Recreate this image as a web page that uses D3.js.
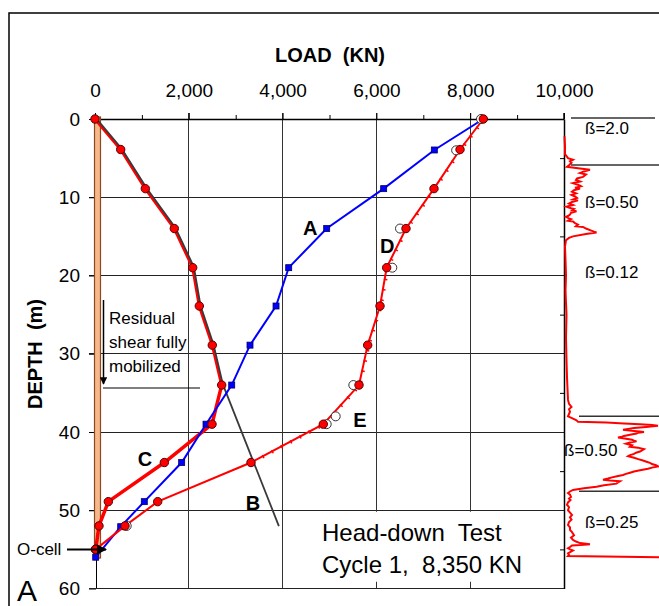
<!DOCTYPE html>
<html>
<head>
<meta charset="utf-8">
<script src="https://cdn.jsdelivr.net/npm/d3@7"></script>
<style>
  body { margin: 0; background: #fff; }
  svg { display: block; font-family: "Liberation Sans", Arial, sans-serif; }
  svg text { white-space: pre; }
</style>
</head>
<body>
<svg width="659" height="606"></svg>
<script>
var width = 659;
var height = 606;

// gauge depths (m) and loads (KN)
var gaugeDepth = [0, 3.9, 8.9, 14, 19, 23.9, 28.9, 34, 39, 43.9, 48.9, 52, 55];
var loadC = [0, 548, 1073, 1691, 2083, 2224, 2501, 2701, 2495, 1478, 284, 85, 15];
var loadD = [8280, 7783, 7228, 6631, 6219, 6077, 5814, 5629, 4868, 3326, 1337, 640, 15];

var blueDepth = [0, 3.96, 8.9, 14, 19, 23.9, 28.9, 34, 39, 43.9, 48.9, 52.1, 56];
var loadA = [8280, 7235, 6155, 4940, 4130, 3860, 3305, 2915, 2367, 1848, 1051, 548, 15];

// open circles (second reading)
var openDepth = [0, 4, 14, 19, 34, 38, 39, 52, 55];
var openLoad = [8230, 7700, 6503, 6339, 5508, 5132, 4940, 676, 15];

// line B : continuation of upper curve
var lineBDepth = [34, 52.1];
var lineBLoad = [2701, 3895];

var loadTicks = [0, 2000, 4000, 6000, 8000, 10000];
var loadMinor = [1000, 3000, 5000, 7000, 9000];
var depthTicks = [0, 10, 20, 30, 40, 50, 60];
var depthMinor = [5, 15, 25, 35, 45, 55];

// side profile trace (depth m, relative value)
var profDepth = [2.2, 3.5, 4.5, 5.0, 5.2, 5.4, 5.6, 5.9, 6.1, 6.3, 6.5, 6.7, 6.9, 7.1, 7.4, 7.6, 7.8, 8.0, 8.2, 8.4, 8.6, 8.8, 8.9, 9.1, 9.3, 9.5, 9.7, 9.9, 10.1, 10.3, 10.4, 10.6, 10.8, 11.0, 11.2, 11.4, 11.5, 11.7, 11.8, 12.0, 12.2, 12.4, 12.5, 12.7, 12.8, 13.0, 13.1, 13.3, 13.5, 13.7, 13.8, 14.0, 14.2, 14.4, 14.5, 14.7, 15.0, 15.2, 15.5, 15.9, 16.3, 18, 20, 22, 25, 28, 30.8, 33, 35.9, 36.4, 36.8, 37.1, 37.4, 37.7, 38.0, 38.3, 38.5, 38.7, 38.8, 38.9, 39.0, 39.1, 39.2, 39.35, 39.5, 39.6, 39.7, 39.85, 40.0, 40.1, 40.2, 40.35, 40.5, 40.6, 40.7, 40.85, 41.0, 41.1, 41.2, 41.35, 41.5, 41.7, 41.9, 42.0, 42.2, 42.35, 42.5, 42.65, 42.8, 42.95, 43.1, 43.3, 43.5, 43.65, 43.8, 43.95, 44.1, 44.25, 44.4, 44.55, 44.7, 44.8, 44.9, 45.05, 45.2, 45.35, 45.5, 45.65, 45.8, 45.95, 46.1, 46.2, 46.3, 46.45, 46.6, 46.8, 47.0, 47.2, 47.4, 47.6, 47.8, 48.0, 48.3, 48.5, 48.7, 49.0, 49.3, 49.6, 50.0, 50.3, 50.6, 50.9, 51.2, 51.5, 51.9, 52.2, 52.5, 52.8, 53.2, 53.5, 53.8, 54.0, 54.2, 54.35, 54.4, 54.5, 54.7, 54.85, 55.0, 55.15, 55.3, 55.5, 55.7, 55.85, 56.0, 56.05];
var profVal = [0.5, 1, 1, 4, 9, 6, 7.5, 5, 3, 14, 26, 20, 16, 22, 19, 13, 12, 16, 9, 14, 17, 11, 16, 10, 8, 12, 7.5, 11, 13, 9, 14, 8, 5, 9, 2.5, 7, 10, 8, 12.5, 7, 6, 4, 2, 5, 7, 4, 9, 11, 14, 12, 19, 22, 26, 30, 32.5, 22, 9, 5, 2, 1.5, 1, 1.5, 2, 1.5, 2.5, 2, 2.5, 3, 4, 5, 7.5, 5, 6, 5, 4, 9, 12.5, 14, 42.5, 60, 76, 88, 94, 82, 70, 64, 59, 68, 80, 74, 72.5, 66, 60, 58, 54, 62, 68, 70, 72.5, 66, 62, 68, 66, 74, 80, 78, 76, 72, 70, 66, 64, 70, 75, 79, 82.5, 86, 88, 92, 94, 88, 84, 80, 76, 70, 66, 62, 59, 53, 48, 44, 39, 46, 56, 54, 52.5, 40, 32.5, 20, 9, 6, 4, 6, 7, 5, 6.5, 4, 3, 5, 4, 6, 8, 6, 7.5, 5, 4, 6, 6, 8, 10, 7, 9, 12, 16, 26, 20, 8, 6, 4, 6, 9, 7, 4, 5, 4, 95];

var betaBounds = [0, 6, 38.1, 47.7];
var betaLabels = ["ß=2.0", "ß=0.50", "ß=0.12", "ß=0.50", "ß=0.25"];
var betaLabelDepth = [1.2, 10.6, 19.5, 42.3, 51.5];

var svg = d3.select("svg");

var x = d3.scaleLinear().domain([0, 10000]).range([95, 564]);
var y = d3.scaleLinear().domain([0, 60]).range([119, 588.5]);
var px = d3.scaleLinear().domain([0, 95]).range([564, 659]);

// outer frame
svg.append("rect")
  .attr("x", 9).attr("y", 13)
  .attr("width", 700).attr("height", 700)
  .attr("fill", "none").attr("stroke", "#000").attr("stroke-width", 1.5);

// grid
var grid = svg.append("g").attr("shape-rendering", "crispEdges");
grid.selectAll(".hg").data(depthTicks.slice(1, 6)).enter().append("line")
  .attr("x1", 89).attr("x2", x(10000))
  .attr("y1", function (d) { return y(d); }).attr("y2", function (d) { return y(d); })
  .attr("stroke", "#222").attr("stroke-width", 1);
grid.selectAll(".vg").data(loadTicks.slice(1, 5)).enter().append("line")
  .attr("x1", function (d) { return x(d); }).attr("x2", function (d) { return x(d); })
  .attr("y1", y(0) - 6).attr("y2", y(60))
  .attr("stroke", "#333").attr("stroke-width", 1);

// white box behind the test caption
svg.append("rect")
  .attr("x", 300).attr("y", y(50) + 1.5)
  .attr("width", 248).attr("height", 70)
  .attr("fill", "#fff");

// top axis
var topAxis = svg.append("g")
  .attr("transform", "translate(0," + y(0) + ")")
  .call(d3.axisTop(x).tickValues(loadTicks).tickFormat(d3.format(","))
    .tickSizeInner(6).tickSizeOuter(0).tickPadding(16));
topAxis.select(".domain").attr("stroke-width", 1.5);
topAxis.selectAll("text").attr("font-size", 19).attr("fill", "#000")
  .attr("font-family", "Liberation Sans, Arial, sans-serif");
svg.append("g")
  .attr("transform", "translate(0," + y(0) + ")")
  .call(d3.axisTop(x).tickValues(loadMinor).tickSize(4).tickFormat(""))
  .select(".domain").remove();

// left axis
var leftAxis = svg.append("g")
  .attr("transform", "translate(96,0)")
  .call(d3.axisLeft(y).tickValues(depthTicks).tickSizeInner(7).tickSizeOuter(0).tickPadding(9));
leftAxis.selectAll("text").attr("font-size", 19).attr("fill", "#000")
  .attr("font-family", "Liberation Sans, Arial, sans-serif");

// right axis with minor ticks
svg.append("g")
  .attr("transform", "translate(" + x(10000) + ",0)")
  .call(d3.axisLeft(y).tickValues(depthMinor).tickSizeInner(4).tickSizeOuter(0).tickFormat(""))
  .select(".domain").attr("stroke-width", 1.5);
svg.append("line")
  .attr("x1", x(10000)).attr("x2", x(10000)).attr("y1", y(0) - 6).attr("y2", y(0))
  .attr("stroke", "#000").attr("stroke-width", 1.5);

// bottom line
svg.append("line")
  .attr("x1", 89).attr("x2", x(10000)).attr("y1", y(60)).attr("y2", y(60))
  .attr("stroke", "#222").attr("stroke-width", 1.2);

// titles
svg.append("text").attr("x", 330).attr("y", 62).attr("text-anchor", "middle")
  .attr("font-size", 20).attr("font-weight", "bold").text("LOAD  (KN)");
svg.append("text").attr("transform", "translate(42," + 354 + ") rotate(-90)")
  .attr("text-anchor", "middle").attr("font-size", 20).attr("font-weight", "bold")
  .text("DEPTH  (m)");

// pile
svg.append("rect")
  .attr("x", 94.5).attr("y", y(0) - 2)
  .attr("width", 6).attr("height", y(56.1) - y(0) + 2)
  .attr("fill", "#f6b88a").attr("stroke", "#8a4a20").attr("stroke-width", 1.2);

// side profile
var pline = d3.line()
  .x(function (d) { return px(d[1]); })
  .y(function (d) { return y(d[0]); });
svg.append("path")
  .datum(d3.zip(profDepth, profVal))
  .attr("d", pline)
  .attr("fill", "none").attr("stroke", "#ff0000").attr("stroke-width", 2)
  .attr("stroke-linejoin", "miter");

// beta zones
var betaLineX = [[571, 655], [571, 659], [579, 659], [579, 659]];
svg.selectAll(".bl").data(betaBounds).enter().append("line")
  .attr("x1", function (d, i) { return betaLineX[i][0]; })
  .attr("x2", function (d, i) { return betaLineX[i][1]; })
  .attr("y1", function (d) { return y(d) - 1; }).attr("y2", function (d) { return y(d) - 1; })
  .attr("stroke", "#333").attr("stroke-width", 1.5);
svg.selectAll(".bt").data(betaLabels).enter().append("text")
  .attr("x", function (d, i) { return i == 3 ? 564 : 585; })
  .attr("y", function (d, i) { return y(betaLabelDepth[i]) + 6; })
  .attr("font-size", 17).text(function (d) { return d; });

// curves
var line = d3.line()
  .x(function (d) { return x(d[1]); })
  .y(function (d) { return y(d[0]); });

var cPts = d3.zip(gaugeDepth, loadC);
var dPts = d3.zip(gaugeDepth, loadD);
var aPts = d3.zip(blueDepth, loadA);

// upper part of C (red under dark line)
svg.append("path").datum(cPts.slice(0, 8)).attr("d", line)
  .attr("fill", "none").attr("stroke", "#ff0000").attr("stroke-width", 3);
svg.append("path").datum(cPts.slice(0, 8).concat(d3.zip(lineBDepth, lineBLoad).slice(1)))
  .attr("d", line).attr("transform", "translate(1.2,-0.6)")
  .attr("fill", "none").attr("stroke", "#3a3a3a").attr("stroke-width", 1.8);
// lower part of C
svg.append("path").datum(cPts.slice(7)).attr("d", line)
  .attr("fill", "none").attr("stroke", "#ff0000").attr("stroke-width", 3.5)
  .attr("stroke-linejoin", "round");

// blue A
svg.append("path").datum(aPts).attr("d", line)
  .attr("fill", "none").attr("stroke", "#0000ff").attr("stroke-width", 2);
svg.selectAll(".sq").data(aPts.slice(1)).enter().append("rect")
  .attr("x", function (d) { return x(d[1]) - 3; })
  .attr("y", function (d) { return y(d[0]) - 3; })
  .attr("width", 6).attr("height", 6)
  .attr("fill", "#0000ff").attr("stroke", "#000060").attr("stroke-width", 0.8);

// red D / E
svg.append("path").datum(dPts).attr("d", line)
  .attr("fill", "none").attr("stroke", "#ff0000").attr("stroke-width", 2);
svg.append("path").datum(dPts.slice(0, 10)).attr("d", line)
  .attr("fill", "none").attr("stroke", "#ff0000").attr("stroke-width", 3.5)
  .attr("stroke-dasharray", "1.5,9").attr("transform", "translate(1,0)");

// open circles
svg.selectAll(".oc").data(d3.zip(openDepth, openLoad)).enter().append("circle")
  .attr("cx", function (d) { return x(d[1]); })
  .attr("cy", function (d) { return y(d[0]); })
  .attr("r", 4.5)
  .attr("fill", "#fff").attr("stroke", "#333").attr("stroke-width", 1);

// red dots
svg.selectAll(".dc").data(cPts.concat(dPts)).enter().append("circle")
  .attr("cx", function (d) { return x(d[1]); })
  .attr("cy", function (d) { return y(d[0]); })
  .attr("r", 4.2)
  .attr("fill", "#ff0000").attr("stroke", "#500").attr("stroke-width", 1);

// curve letters
var letters = [["A", 4435, 14.8], ["D", 6077, 17.1], ["E", 5507, 39.4], ["B", 3213, 49.97], ["C", 910, 44.35]];
svg.selectAll(".lt").data(letters).enter().append("text")
  .attr("x", function (d) { return x(d[1]); })
  .attr("y", function (d) { return y(d[2]); })
  .attr("font-size", 20).attr("font-weight", "bold").text(function (d) { return d[0]; });

// arrow marker
svg.append("defs").append("marker")
  .attr("id", "arr").attr("viewBox", "0 0 10 10")
  .attr("refX", 9).attr("refY", 5)
  .attr("markerWidth", 5).attr("markerHeight", 5)
  .attr("orient", "auto")
  .append("path").attr("d", "M0,0 L10,5 L0,10 z").attr("fill", "#000");

// residual shear annotation
svg.append("line")
  .attr("x1", 103.5).attr("x2", 103.5).attr("y1", 300).attr("y2", 384)
  .attr("stroke", "#000").attr("stroke-width", 1.5).attr("marker-end", "url(#arr)");
svg.append("line")
  .attr("x1", 103).attr("x2", 200).attr("y1", 388).attr("y2", 388)
  .attr("stroke", "#000").attr("stroke-width", 1.2);
var resid = ["Residual", "shear fully", "mobilized"];
svg.selectAll(".rs").data(resid).enter().append("text")
  .attr("x", 109).attr("y", function (d, i) { return 324 + i * 24; })
  .attr("font-size", 17).text(function (d) { return d; });

// O-cell
svg.append("text").attr("x", 17).attr("y", y(55) + 6).attr("font-size", 17).text("O-cell");
svg.append("line")
  .attr("x1", 67).attr("x2", 106).attr("y1", y(55)).attr("y2", y(55))
  .attr("stroke", "#000").attr("stroke-width", 2).attr("marker-end", "url(#arr)");

// panel letter
svg.append("text").attr("x", 17).attr("y", 601).attr("font-size", 30).text("A");

// caption
svg.append("text").attr("x", 322).attr("y", 541).attr("font-size", 24).text("Head-down  Test");
svg.append("text").attr("x", 322).attr("y", 573).attr("font-size", 24).text("Cycle 1,  8,350 KN");
</script>
</body>
</html>
